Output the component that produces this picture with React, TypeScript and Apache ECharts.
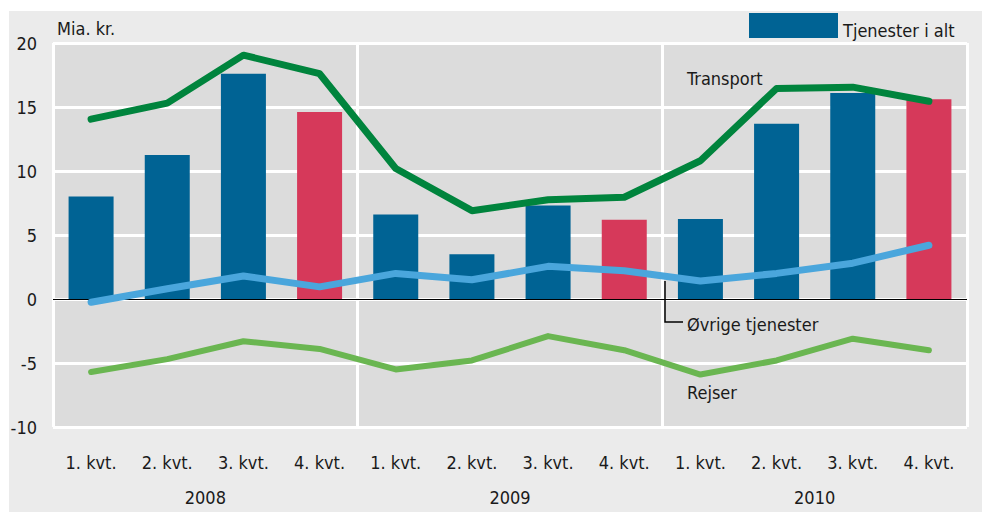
import React, { useEffect, useRef } from "react";
import * as echarts from "echarts";

const quarters = ["1. kvt.", "2. kvt.", "3. kvt.", "4. kvt.", "1. kvt.", "2. kvt.", "3. kvt.", "4. kvt.", "1. kvt.", "2. kvt.", "3. kvt.", "4. kvt."];
const years = ["2008", "2009", "2010"];
const tjenesterIAlt = [8.0, 11.25, 17.6, 14.6, 6.6, 3.5, 7.3, 6.2, 6.25, 13.7, 16.1, 15.6];
const transport = [14.05, 15.3, 19.05, 17.6, 10.2, 6.9, 7.75, 7.95, 10.8, 16.45, 16.55, 15.45];
const ovrige = [-0.25, 0.8, 1.8, 0.95, 2.0, 1.5, 2.55, 2.2, 1.4, 2.0, 2.8, 4.2];
const rejser = [-5.7, -4.7, -3.3, -3.9, -5.5, -4.8, -2.9, -4.0, -5.9, -4.8, -3.1, -4.0];

const FONT = "'Liberation Sans Narrow', 'DejaVu Sans Condensed', 'Open Sans', sans-serif";
const TXT = "#1a1a1a";
const BLUE = "#006394";
const RED = "#d6395a";

export default function App() {
  const ref = useRef<HTMLDivElement>(null);
  useEffect(() => {
    const chart = echarts.init(ref.current!, null, { renderer: "svg" });
    chart.setOption({
      animation: false,
      textStyle: { fontFamily: FONT },
      graphic: [
        { type: "rect", z: -10, shape: { x: 9, y: 11, width: 973, height: 501 }, style: { fill: "#ebebeb" } },
        { type: "text", x: 57, y: 28, style: { text: "Mia. kr.", font: `18px ${FONT}`, fill: TXT, verticalAlign: "middle" } },
        { type: "text", x: 687, y: 78, style: { text: "Transport", font: `18px ${FONT}`, fill: TXT, verticalAlign: "middle" } },
        { type: "text", x: 687, y: 324, style: { text: "Øvrige tjenester", font: `18px ${FONT}`, fill: TXT, verticalAlign: "middle" } },
        { type: "text", x: 687, y: 392, style: { text: "Rejser", font: `18px ${FONT}`, fill: TXT, verticalAlign: "middle" } },
        { type: "polyline", z: 20, shape: { points: [[665, 281], [665, 322], [683, 322]] }, style: { stroke: "#000", lineWidth: 1.5, fill: "none" } },
      ],
      legend: {
        data: ["Tjenester i alt"],
        left: 749,
        top: 12,
        padding: 0,
        icon: "rect",
        itemWidth: 89,
        itemHeight: 25,
        itemGap: 4,
        formatter: "{a|{name}}",
        textStyle: {
          fontSize: 18,
          color: TXT,
          fontFamily: FONT,
          rich: { a: { fontSize: 18, color: TXT, fontFamily: FONT, lineHeight: 18, padding: [9, 0, 0, 0] } },
        },
      },
      grid: { left: 53, right: 15, top: 43, bottom: 85, show: true, backgroundColor: "#dcdcdc", borderWidth: 0 },
      xAxis: [
        {
          type: "category",
          data: quarters,
          axisLine: { show: false },
          axisTick: { show: false },
          axisLabel: { fontSize: 18, color: TXT, margin: 26, fontFamily: FONT },
        },
        {
          type: "category",
          data: years,
          position: "bottom",
          offset: 35,
          axisLine: { show: false },
          axisTick: { show: false },
          axisLabel: { fontSize: 18, color: TXT, margin: 26, fontFamily: FONT },
          splitLine: { show: true, showMinLine: true, showMaxLine: true, lineStyle: { color: "#ffffff", width: 3 } },
        },
      ],
      yAxis: {
        type: "value",
        min: -10,
        max: 20,
        interval: 5,
        axisLine: { show: false },
        axisTick: { show: false },
        axisLabel: { fontSize: 18, color: TXT, margin: 16, fontFamily: FONT },
        splitLine: { show: true, lineStyle: { color: "#ffffff", width: 3 } },
      },
      series: [
        {
          name: "Tjenester i alt",
          type: "bar",
          barWidth: 45,
          itemStyle: { color: BLUE },
          data: tjenesterIAlt.map((v, i) => (i % 4 === 3 ? { value: v, itemStyle: { color: RED } } : v)),
          markLine: {
            silent: true,
            symbol: "none",
            label: { show: false },
            lineStyle: { color: "#000", width: 1, type: "solid" },
            data: [{ yAxis: 0 }],
          },
        },
        {
          name: "Transport",
          type: "line",
          data: transport,
          symbol: "none",
          lineStyle: { color: "#00843d", width: 7, cap: "round", join: "round" },
          z: 5,
        },
        {
          name: "Øvrige tjenester",
          type: "line",
          data: ovrige,
          symbol: "none",
          lineStyle: { color: "#4aa6dc", width: 7, cap: "round", join: "round" },
          z: 5,
        },
        {
          name: "Rejser",
          type: "line",
          data: rejser,
          symbol: "none",
          lineStyle: { color: "#6ab651", width: 6, cap: "round", join: "round" },
          z: 5,
        },
      ],
    });
    return () => chart.dispose();
  }, []);
  return <div ref={ref} style={{ position: "fixed", left: 0, top: 0, width: 982, height: 512, background: "#ffffff" }} />;
}
